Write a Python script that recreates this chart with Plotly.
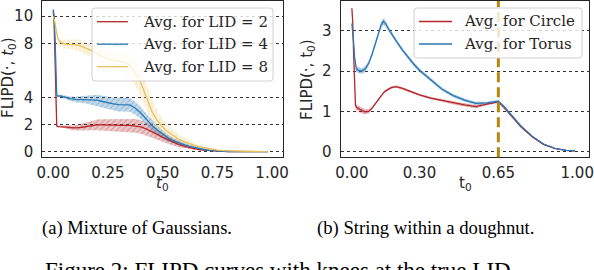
import plotly.graph_objects as go

# ---------------- data: (a) Mixture of Gaussians ----------------
t_mog = [0.0, 0.004, 0.008, 0.012, 0.016, 0.02, 0.03, 0.05, 0.075, 0.1, 0.125, 0.15,
         0.175, 0.2, 0.225, 0.25, 0.275, 0.3, 0.325, 0.35, 0.375, 0.4, 0.425, 0.45,
         0.475, 0.5, 0.525, 0.55, 0.575, 0.6, 0.625, 0.65, 0.675, 0.7, 0.725, 0.75,
         0.8, 0.85, 0.9, 0.95, 0.98]
lid2_mean = [10.4, 9.5, 7.0, 3.0, 1.9, 1.85, 1.85, 1.82, 1.78, 1.75, 1.78, 1.85,
             1.92, 1.97, 1.97, 1.95, 1.93, 1.93, 1.93, 1.93, 1.9, 1.82, 1.68, 1.5,
             1.27, 1.05, 0.86, 0.68, 0.52, 0.39, 0.28, 0.2, 0.13, 0.08, 0.05, 0.03,
             0.01, 0.0, 0.0, 0.0, 0.0]
lid2_sd = [0.0, 0.0, 0.0, 0.0, 0.05, 0.06, 0.08, 0.1, 0.15, 0.2, 0.25, 0.3,
           0.35, 0.4, 0.42, 0.44, 0.45, 0.46, 0.48, 0.5, 0.5, 0.5, 0.48, 0.45,
           0.4, 0.35, 0.3, 0.25, 0.2, 0.15, 0.11, 0.08, 0.06, 0.04, 0.03, 0.02,
           0.01, 0.0, 0.0, 0.0, 0.0]
lid4_mean = [10.5, 10.0, 8.5, 6.0, 4.2, 4.1, 4.12, 4.05, 3.92, 3.85, 3.85, 3.85,
             3.82, 3.8, 3.7, 3.6, 3.52, 3.47, 3.46, 3.45, 3.2, 2.85, 2.4, 1.95,
             1.6, 1.28, 1.0, 0.8, 0.63, 0.5, 0.38, 0.28, 0.19, 0.12, 0.07, 0.04,
             0.01, 0.0, 0.0, 0.0, 0.0]
lid4_sd = [0.0, 0.0, 0.0, 0.0, 0.05, 0.08, 0.1, 0.12, 0.15, 0.2, 0.25, 0.3,
           0.35, 0.4, 0.42, 0.45, 0.47, 0.5, 0.5, 0.5, 0.48, 0.45, 0.42, 0.4,
           0.35, 0.3, 0.25, 0.2, 0.17, 0.15, 0.12, 0.09, 0.07, 0.05, 0.03, 0.02,
           0.01, 0.0, 0.0, 0.0, 0.0]
lid8_mean = [10.0, 9.8, 9.5, 9.1, 8.7, 8.4, 8.1, 7.95, 7.9, 7.9, 7.8, 7.65,
             7.45, 7.25, 7.0, 6.85, 6.75, 6.7, 6.6, 6.35, 5.8, 5.1, 4.1, 3.0,
             2.3, 1.8, 1.45, 1.15, 0.9, 0.72, 0.56, 0.44, 0.33, 0.24, 0.17, 0.11,
             0.05, 0.02, 0.01, 0.0, 0.0]
lid8_sd = [0.0, 0.05, 0.08, 0.1, 0.12, 0.15, 0.2, 0.3, 0.35, 0.4, 0.42, 0.45,
           0.48, 0.5, 0.55, 0.6, 0.65, 0.7, 0.8, 0.9, 0.95, 1.0, 1.0, 0.9,
           0.75, 0.6, 0.5, 0.42, 0.36, 0.3, 0.24, 0.18, 0.14, 0.1, 0.07, 0.05,
           0.02, 0.01, 0.0, 0.0, 0.0]

# ---------------- data: (b) String within a doughnut ----------------
t_str = [0.0, 0.004, 0.008, 0.012, 0.016, 0.02, 0.03, 0.045, 0.06, 0.075, 0.09, 0.105,
         0.12, 0.13, 0.14, 0.15, 0.16, 0.175, 0.19, 0.2, 0.225, 0.25, 0.275, 0.3,
         0.35, 0.4, 0.45, 0.5, 0.55, 0.6, 0.65, 0.675, 0.7, 0.75, 0.8, 0.85, 0.9,
         0.95, 0.99]
torus_mean = [3.18, 3.0, 2.7, 2.35, 2.12, 2.05, 2.02, 2.0, 2.05, 2.2, 2.42, 2.7,
              3.0, 3.15, 3.23, 3.18, 3.07, 2.93, 2.8, 2.72, 2.52, 2.34, 2.17, 2.02,
              1.78, 1.55, 1.39, 1.28, 1.2, 1.21, 1.25, 1.12, 0.96, 0.64, 0.38, 0.19, 0.08,
              0.03, 0.02]
torus_sd = [0.02, 0.03, 0.04, 0.05, 0.06, 0.07, 0.07, 0.07, 0.07, 0.06, 0.06, 0.07,
            0.08, 0.08, 0.08, 0.07, 0.06, 0.06, 0.05, 0.05, 0.05, 0.05, 0.05, 0.05,
            0.04, 0.04, 0.04, 0.04, 0.04, 0.03, 0.03, 0.03, 0.03, 0.03, 0.02, 0.02, 0.01,
            0.01, 0.01]
circle_mean = [3.56, 3.2, 2.4, 1.6, 1.15, 1.1, 1.06, 1.02, 0.99, 1.0, 1.08, 1.2,
               1.32, 1.4, 1.46, 1.51, 1.55, 1.59, 1.61, 1.61, 1.57, 1.52, 1.46, 1.41,
               1.33, 1.27, 1.21, 1.16, 1.12, 1.18, 1.24, 1.1, 0.94, 0.62, 0.37, 0.18, 0.08,
               0.03, 0.02]
circle_sd = [0.02, 0.03, 0.04, 0.05, 0.06, 0.07, 0.07, 0.07, 0.06, 0.05, 0.04, 0.03,
             0.03, 0.03, 0.03, 0.03, 0.03, 0.03, 0.03, 0.03, 0.03, 0.03, 0.03, 0.03,
             0.03, 0.03, 0.04, 0.04, 0.04, 0.03, 0.03, 0.03, 0.03, 0.02, 0.02, 0.02, 0.01,
             0.01, 0.01]
knee_t = 0.65

mog_ticks_x = [0.0, 0.25, 0.5, 0.75, 1.0]
mog_ticks_y = [0, 2, 4, 8, 10]
str_ticks_x = [0.0, 0.3, 0.65, 1.0]
str_ticks_y = [0, 1, 2, 3]
mog_names = ["Avg. for LID = 2", "Avg. for LID = 4", "Avg. for LID = 8"]
str_names = ["Avg. for Circle", "Avg. for Torus"]

RED = "#b5262b"
BLUE = "#2a78b5"
YELLOW = "#e8c05c"

W, H = 594, 270
fig = go.Figure()


def band(x, m, s, xa, ya, fill, fg, shape):
    up = [a + b for a, b in zip(m, s)]
    lo = [a - b for a, b in zip(m, s)]
    fig.add_trace(go.Scatter(
        x=list(x) + list(x)[::-1], y=up + lo[::-1], xaxis=xa, yaxis=ya,
        mode="lines", line=dict(width=0), fill="toself", fillcolor=fill,
        fillpattern=dict(shape=shape, bgcolor=fill, fgcolor=fg, fgopacity=0.35,
                         size=4, solidity=0.25),
        hoverinfo="skip", showlegend=False))


def line(x, m, xa, ya, color, name):
    fig.add_trace(go.Scatter(x=x, y=m, xaxis=xa, yaxis=ya, mode="lines",
                             line=dict(color=color, width=1.3), name=name,
                             showlegend=False))


band(t_mog, lid2_mean, lid2_sd, "x", "y", "rgba(181,38,43,0.25)", RED, "/")
band(t_mog, lid4_mean, lid4_sd, "x", "y", "rgba(42,120,181,0.28)", BLUE, "/")
band(t_mog, lid8_mean, lid8_sd, "x", "y", "rgba(232,192,92,0.15)", YELLOW, "|")
line(t_mog, lid2_mean, "x", "y", RED, mog_names[0])
line(t_mog, lid4_mean, "x", "y", BLUE, mog_names[1])
line(t_mog, lid8_mean, "x", "y", YELLOW, mog_names[2])

band(t_str, circle_mean, circle_sd, "x2", "y2", "rgba(181,38,43,0.3)", RED, "/")
band(t_str, torus_mean, torus_sd, "x2", "y2", "rgba(42,120,181,0.35)", BLUE, "/")
line(t_str, circle_mean, "x2", "y2", RED, str_names[0])
line(t_str, torus_mean, "x2", "y2", BLUE, str_names[1])

ydom = [1 - 157.3 / H, 1 - 1.0 / H]
axis_common = dict(showline=True, mirror=True, linecolor="#262626", linewidth=1.2,
                   ticks="", zeroline=False, automargin=False,
                   tickfont=dict(family="DejaVu Sans", size=15, color="#262626"))

fig.update_layout(
    width=W, height=H, margin=dict(l=0, r=0, t=0, b=0, autoexpand=False),
    paper_bgcolor="white", plot_bgcolor="white", showlegend=False,
    font=dict(family="DejaVu Sans", color="#262626"),
    xaxis=dict(domain=[42.3 / W, 283.0 / W], range=[-0.05, 1.05], tickvals=mog_ticks_x,
               ticktext=[f"{v:.2f}" for v in mog_ticks_x], showgrid=False,
               anchor="y", ticklabelstandoff=2, **axis_common),
    yaxis=dict(domain=ydom, range=[-0.42, 11.12], tickvals=mog_ticks_y, showgrid=True,
               gridcolor="#333333", griddash="dot", gridwidth=1, anchor="x",
               ticklabelstandoff=5, **axis_common),
    xaxis2=dict(domain=[340.6 / W, 588.5 / W], range=[-0.05, 1.05], tickvals=str_ticks_x,
                ticktext=[f"{v:.2f}" for v in str_ticks_x], showgrid=False,
                anchor="y2", ticklabelstandoff=2, **axis_common),
    yaxis2=dict(domain=ydom, range=[-0.14, 3.74], tickvals=str_ticks_y, showgrid=True,
                gridcolor="#333333", griddash="dot", gridwidth=1, anchor="x2",
                ticklabelstandoff=5, **axis_common),
)


def px(x):
    return x / W


def py(y):
    return 1 - y / H


def rounded_box(x0, y0, x1, y1, r=3):
    # path in paper coordinates (pixel inputs), rounded corners via quadratic curves
    pts = [
        f"M{px(x0 + r)},{py(y0)}", f"L{px(x1 - r)},{py(y0)}",
        f"Q{px(x1)},{py(y0)} {px(x1)},{py(y0 + r)}", f"L{px(x1)},{py(y1 - r)}",
        f"Q{px(x1)},{py(y1)} {px(x1 - r)},{py(y1)}", f"L{px(x0 + r)},{py(y1)}",
        f"Q{px(x0)},{py(y1)} {px(x0)},{py(y1 - r)}", f"L{px(x0)},{py(y0 + r)}",
        f"Q{px(x0)},{py(y0)} {px(x0 + r)},{py(y0)}", "Z",
    ]
    return dict(type="path", xref="paper", yref="paper", path=" ".join(pts),
                fillcolor="rgba(255,255,255,0.8)", line=dict(color="#d0d0d0", width=1),
                layer="above")


shapes = [dict(type="line", xref="x2", yref="y2 domain", x0=knee_t, x1=knee_t,
               y0=0, y1=1, line=dict(color="#b8860b", width=3, dash="10px,5px"),
               layer="above")]
ann = []


def note(text, x, y, size, family="DejaVu Sans", color="#262626", angle=0,
         xanchor="center", yanchor="middle"):
    return dict(text=text, xref="paper", yref="paper", x=px(x), y=py(y),
                xanchor=xanchor, yanchor=yanchor, textangle=angle, showarrow=False,
                font=dict(family=family, size=size, color=color))


# legend (a)
shapes.append(rounded_box(92, 8, 273, 81))
for i, (name, col) in enumerate(zip(mog_names, [RED, BLUE, YELLOW])):
    yy = 21.7 + 22.5 * i
    shapes.append(dict(type="line", xref="paper", yref="paper", x0=px(97), x1=px(128),
                       y0=py(yy), y1=py(yy), line=dict(color=col, width=1.3),
                       layer="above"))
    ann.append(note(name, 141, yy, 15, family="DejaVu Serif", xanchor="left"))

# legend (b)
shapes.append(rounded_box(414, 8, 582, 58))
for i, (name, col) in enumerate(zip(str_names, [RED, BLUE])):
    yy = 21.5 + 22.5 * i
    shapes.append(dict(type="line", xref="paper", yref="paper", x0=px(419), x1=px(452),
                       y0=py(yy), y1=py(yy), line=dict(color=col, width=1.3),
                       layer="above"))
    ann.append(note(name, 462, yy, 15, family="DejaVu Serif", xanchor="left"))

ann += [
    note("FLIPD(·, <i>t</i><sub>0</sub>)", 9, 78, 15, angle=-90),
    note("FLIPD(·, t<sub>0</sub>)", 307, 80, 15, angle=-90),
    note("<i>t</i><sub>0</sub>", 162, 183, 15),
    note("t<sub>0</sub>", 465, 183, 15),
    note("(a) Mixture of Gaussians.", 136.5, 228, 18.6, family="Liberation Serif",
         color="black"),
    note("(b) String within a doughnut.", 425.5, 228, 18.7, family="Liberation Serif",
         color="black"),
    note("Figure 2: FLIPD curves with knees at the true LID.", 43, 256, 23,
         family="Liberation Serif", color="black", xanchor="left", yanchor="top"),
]
fig.update_layout(shapes=shapes, annotations=ann)

fig.write_html("out.html", config={"displayModeBar": False},
               post_script="document.body.style.margin='0';")
